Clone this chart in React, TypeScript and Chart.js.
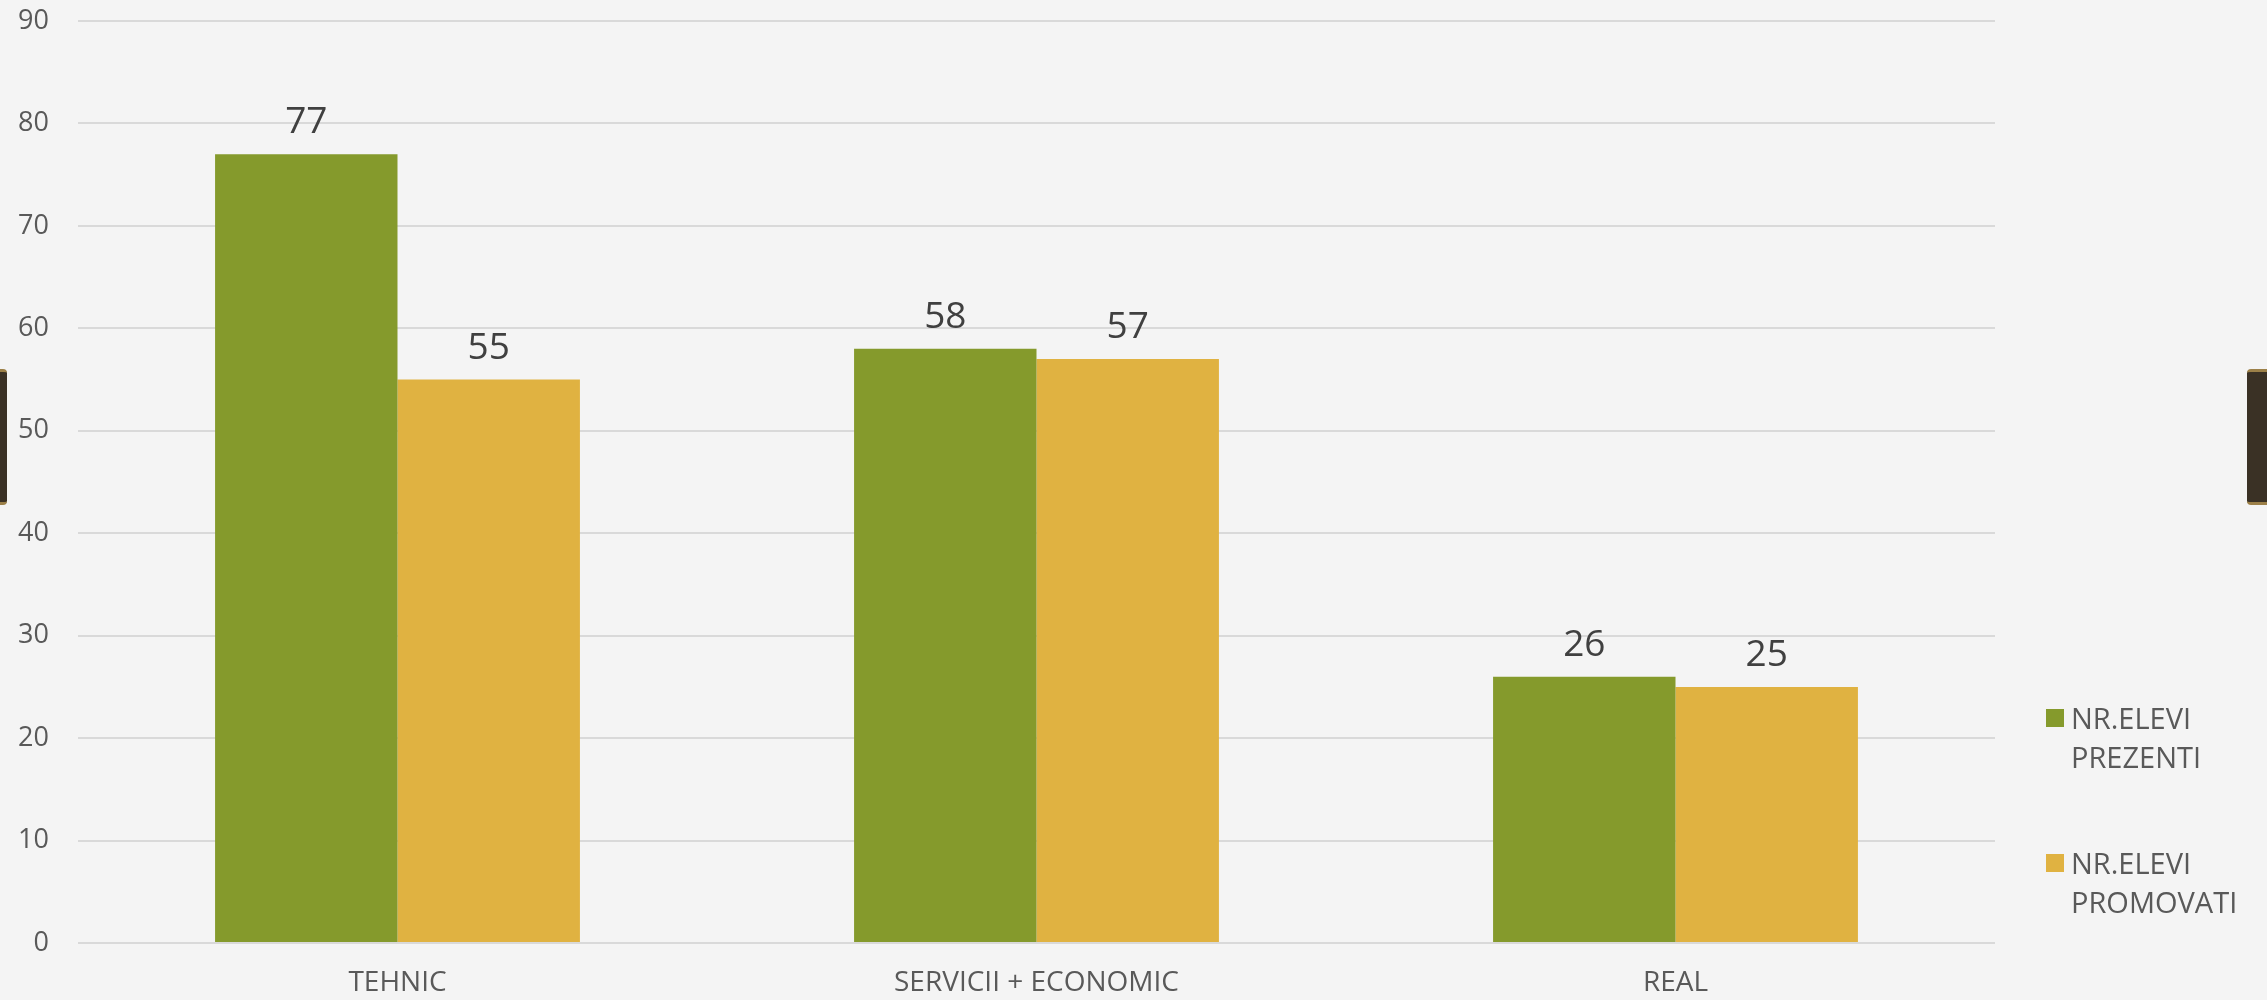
import React, { useEffect, useRef } from "react";
import { Chart, registerables } from "chart.js";

Chart.register(...registerables);

const categories = ["TEHNIC", "SERVICII + ECONOMIC", "REAL"];
const prezenti = [77, 58, 26];
const promovati = [55, 57, 25];
const seriesLabels = [["NR.ELEVI", "PREZENTI"], ["NR.ELEVI", "PROMOVATI"]];
const yTicks = { min: 0, max: 90, step: 10 };

const GREEN = "#859a2c";
const YELLOW = "#e0b241";
const FONT = "'Open Sans', 'Noto Sans', sans-serif";

const dataLabelPlugin = {
  id: "dataLabels",
  afterDatasetsDraw(chart: any) {
    const ctx = chart.ctx;
    ctx.save();
    ctx.font = `37px ${FONT}`;
    ctx.fillStyle = "#404040";
    ctx.textAlign = "center";
    ctx.textBaseline = "alphabetic";
    chart.data.datasets.forEach((ds: any, i: number) => {
      const meta = chart.getDatasetMeta(i);
      meta.data.forEach((el: any, j: number) => {
        ctx.fillText(String(ds.data[j]), el.x, el.y - 21);
      });
    });
    ctx.restore();
  },
};

const legendPlugin = {
  id: "sideLegend",
  afterDraw(chart: any) {
    const ctx = chart.ctx;
    const x0 = 2046;
    const itemTops = [709, 854];
    ctx.save();
    ctx.font = `29px ${FONT}`;
    ctx.textAlign = "left";
    ctx.textBaseline = "alphabetic";
    chart.data.datasets.forEach((ds: any, i: number) => {
      const top = itemTops[i];
      ctx.fillStyle = ds.backgroundColor;
      ctx.fillRect(x0, top, 18, 18);
      ctx.fillStyle = "#595959";
      const lines: string[] = ds.legendLines;
      lines.forEach((ln, k) => {
        ctx.fillText(ln, x0 + 25, top + 20 + k * 39);
      });
    });
    ctx.restore();
  },
};

export default function App() {
  const ref = useRef<HTMLCanvasElement | null>(null);
  useEffect(() => {
    document.body.style.margin = "0";
    if (!ref.current) return;
    const chart = new Chart(ref.current, {
      type: "bar",
      data: {
        labels: categories,
        datasets: [
          {
            label: seriesLabels[0].join(" "),
            legendLines: seriesLabels[0],
            data: prezenti,
            backgroundColor: GREEN,
            categoryPercentage: 0.571,
            barPercentage: 1,
          } as any,
          {
            label: seriesLabels[1].join(" "),
            legendLines: seriesLabels[1],
            data: promovati,
            backgroundColor: YELLOW,
            categoryPercentage: 0.571,
            barPercentage: 1,
          } as any,
        ],
      },
      options: {
        responsive: false,
        animation: false,
        layout: { padding: { top: 21, right: 272, left: 0, bottom: 0 } },
        plugins: { legend: { display: false }, tooltip: { enabled: false } },
        scales: {
          x: {
            grid: { display: false, drawTicks: false },
            border: { display: false },
            ticks: { color: "#595959", font: { family: FONT, size: 28 }, padding: 23 },
            afterFit: (s: any) => { s.height = 57; s.paddingTop = 0; s.paddingBottom = 0; },
          },
          y: {
            min: yTicks.min,
            max: yTicks.max,
            grid: { color: "#d9d9d9", lineWidth: 2, drawTicks: false },
            border: { display: false },
            ticks: {
              stepSize: yTicks.step,
              color: "#595959",
              font: { family: FONT, size: 27 },
              padding: 29,
            },
            afterFit: (s: any) => { s.width = 78; s.paddingTop = 0; s.paddingBottom = 0; },
          },
        },
      },
      plugins: [dataLabelPlugin, legendPlugin],
    });
    return () => chart.destroy();
  }, []);

  const tab = (side: "left" | "right"): React.CSSProperties => ({
    position: "absolute",
    top: 369,
    height: 136,
    width: side === "left" ? 7 : 20,
    [side]: 0,
    background: "#3a3125",
    borderTop: "3px solid #9c8048",
    borderBottom: "3px solid #9c8048",
    borderRadius: side === "left" ? "0 4px 4px 0" : "4px 0 0 4px",
    boxSizing: "border-box",
  } as any);

  return (
    <div style={{ position: "relative", width: 2267, height: 1000, background: "#f4f4f4", overflow: "hidden" }}>
      <canvas ref={ref} width={2267} height={1000} style={{ display: "block" }} />
      <div style={tab("left")} />
      <div style={tab("right")} />
    </div>
  );
}
